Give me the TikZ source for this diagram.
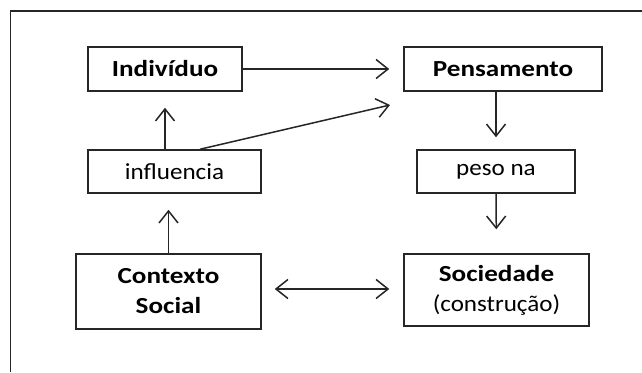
\documentclass[tikz,border=0pt]{standalone}
\usepackage{fontspec}
\setmainfont{Carlito}[FakeStretch=1.09,BoldFeatures={FakeStretch=1.18}]
\usetikzlibrary{positioning,calc,arrows.meta}

\begin{document}
\begin{tikzpicture}[x=1pt,y=-1pt,
  ponta/.tip={Straight Barb[length=12pt,width=19pt,line width=1.5pt]},
  caixa/.style={draw=black!85,line width=1.5pt,inner sep=0pt,align=center,
    font=\fontsize{23}{30}\selectfont},
  seta/.style={draw=black!85,line width=1.5pt,-ponta},
  ]
  \useasboundingbox (0,0) rectangle (642,372);
  \draw [black!85,line width=1.5pt] (10.5,372) -- (10.5,11) -- (642,11);
  \node [caixa,minimum width=154pt,minimum height=44pt] (ind) at (165,69) {\textbf{Indivíduo}};
  \node [caixa,minimum width=198pt,minimum height=44pt] (pens) at (503,69) {\textbf{Pensamento}};
  \node [caixa,minimum width=173pt,minimum height=43pt] (infl) at (174.5,171.5) {influencia};
  \node [caixa,minimum width=158pt,minimum height=43pt] (peso) at (496,171.5) {peso na};
  \node [caixa,minimum width=185pt,minimum height=75pt] (ctx) at (168.5,291.5) {\textbf{Contexto}\\\textbf{Social}};
  \node [caixa,minimum width=185pt,minimum height=72pt] (soc) at (496.5,290) {\textbf{Sociedade}\\(construção)};
  \coordinate (alvo) at (390,105);
  \draw [seta,shorten >=14pt] (ind) -- (pens);
  \draw [seta,shorten >=16pt] (infl.north -| ind.south) -- (ind.south);
  \draw [seta] ($(infl.north)+(25.5,0)$) -- (alvo);
  \draw [seta,shorten >=16pt] (ctx.north) -- (ctx.north |- infl.south);
  \draw [seta,shorten >=12pt] (pens.south -| peso.north) -- (peso.north);
  \draw [seta,shorten >=24pt] (peso.south) -- (soc.north);
  \draw [seta,ponta-ponta,shorten <=13pt,shorten >=14pt] (ctx.east |- 0,289) -- (soc.west |- 0,289);
\end{tikzpicture}
\end{document}
